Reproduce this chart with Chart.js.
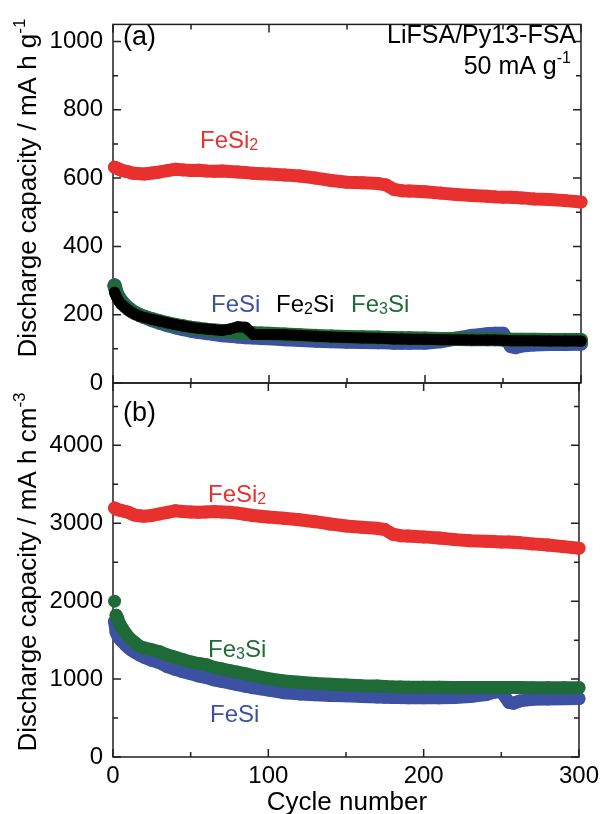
<!DOCTYPE html>
<html>
<head>
<meta charset="utf-8">
<title>Discharge capacity vs cycle number</title>
<script src="https://cdn.jsdelivr.net/npm/chart.js@4.4.1/dist/chart.umd.min.js"></script>
<style>
  body { margin: 0; background: #fff; }
  #wrap { position: relative; width: 604px; height: 814px; }
  #wrap canvas { position: absolute; left: 0; top: 0; }
</style>
</head>
<body>
<div id="wrap">
  <canvas id="chartA" width="604" height="814"></canvas>
  <canvas id="chartB" width="604" height="814"></canvas>
</div>
<script>
// cycle numbers the values were read at
const cycles = [1, 2, 3, 4, 5, 6,  8, 10, 12, 14, 17, 20,  25, 30, 35, 40, 45, 50,
  55, 60, 65, 70, 75, 80,  85, 90, 95, 100,  110, 120, 130, 140, 150, 160, 170,
  175, 180, 185, 190,  200, 210, 220, 230, 240,  245, 250, 255, 258, 262,  270, 280, 290, 300];

// (a) gravimetric capacity, mA h g-1
const fesi2Grav = [632, 630, 628, 626, 624, 622,  620, 618, 615, 614, 613, 612,  615, 618, 622, 626, 624, 622,
  623, 621, 620, 621, 619, 618,  616, 614, 613, 612,  609, 606, 600, 593, 588, 586, 584,
  580, 567, 563, 562,  560, 556, 552, 549, 547,  545, 544, 544, 543, 542,  539, 537, 534, 530];
const fesiGrav = [286, 270, 258, 250, 243, 237,  227, 219, 212, 206, 199, 193,  184, 176, 169, 163, 158, 153,
  149, 146, 143, 140, 138, 136,  134, 133, 132, 131,  128, 126, 124, 122, 121, 120, 119,
  119, 118, 118, 118,  118, 122, 130, 138, 143,  144, 144, 108, 105, 110,  113, 114, 114, 115];
const fe2siGrav = [266, 255, 245, 238, 232, 228,  220, 213, 207, 202, 196, 192,  186, 181, 176, 171, 167, 163,
  160, 158, 156, 154, 158, 165,  163, 142, 142, 142,  141, 139, 137, 135, 133, 132, 131,
  130, 129, 129, 128,  128, 127, 127, 126, 126,  126, 125, 124, 124, 124,  124, 123, 123, 123];
const fe3siGrav = [284, 266, 254, 246, 239, 233,  224, 216, 210, 205, 199, 194,  187, 181, 175, 170, 166, 162,
  159, 156, 154, 152, 150, 148,  147, 146, 145, 144,  142, 140, 138, 136, 135, 134, 133,
  132, 132, 131, 131,  130, 129, 129, 128, 128,  128, 127, 127, 127, 127,  127, 126, 126, 126];

// (b) volumetric capacity, mA h cm-3
const fesi2Vol = [3195, 3185, 3175, 3170, 3165, 3160,  3150, 3140, 3120, 3105, 3095, 3090,  3100, 3120, 3140, 3160, 3150, 3145,
  3140, 3145, 3150, 3145, 3140, 3130,  3115, 3100, 3090, 3080,  3065, 3045, 3020, 2990, 2965, 2950, 2935,
  2920, 2860, 2840, 2835,  2825, 2810, 2790, 2775, 2770,  2765, 2760, 2760, 2755, 2750,  2735, 2720, 2700, 2680];
const fesiVol = [1740, 1600, 1560, 1530, 1500, 1480,  1440, 1400, 1370, 1345, 1310, 1280,  1240, 1210, 1160, 1125, 1095, 1070,
  1040, 1020, 990, 970, 950, 930,  910, 890, 875, 860,  825, 810, 800, 790, 785, 775, 770,
  768, 765, 762, 760,  760, 760, 765, 775, 800,  830, 840, 700, 690, 720,  740, 745, 748, 750];
const fe3siVol = [2000, 1820, 1780, 1720, 1680, 1650,  1590, 1540, 1500, 1470, 1420, 1400,  1375, 1350, 1310, 1280, 1250, 1220,
  1200, 1185, 1150, 1130, 1110, 1090,  1070, 1045, 1025, 1005,  975, 960, 945, 935, 925, 915, 910,
  905, 900, 898, 896,  895, 894, 893, 892, 892,  892, 891, 891, 891, 891,  890, 890, 890, 890];

// ticks
const xTicks = [0, 100, 200, 300];
const xMinor = [50, 150, 250];
const yTicksGrav = [0, 200, 400, 600, 800, 1000];
const yMinorGrav = [100, 300, 500, 700, 900];
const yTicksVol = [0, 1000, 2000, 3000, 4000];
const yMinorVol = [500, 1500, 2500, 3500, 4500];

const FONT = "'Liberation Sans', Arial, Helvetica, sans-serif";
const RED = '#e8312f', BLUE = '#3d51a3', GREEN = '#1f6b38', BLACK = '#000000';

function series(label, values, color, width, detachFirst) {
  return {
    label: label,
    data: cycles.map((c, i) => ({ x: c, y: values[i] })),
    borderColor: color,
    backgroundColor: color,
    showLine: true,
    borderWidth: width,
    pointRadius: width / 2,
    pointBorderWidth: 0,
    tension: 0,
    borderCapStyle: 'round',
    borderJoinStyle: 'round',
    clip: false,
    // the very first point sits on its own in the original
    segment: detachFirst ? { borderColor: c => (c.p0DataIndex === 0 ? 'rgba(0,0,0,0)' : undefined) } : undefined
  };
}

// draw text made of pieces with different sizes (sub/superscripts)
function drawRich(ctx, parts, x, y, align, color) {
  ctx.fillStyle = color;
  ctx.textAlign = 'left';
  ctx.textBaseline = 'alphabetic';
  let w = 0;
  parts.forEach(p => { ctx.font = p.s + 'px ' + FONT; w += ctx.measureText(p.t).width; });
  let cx = align === 'right' ? x - w : (align === 'center' ? x - w / 2 : x);
  parts.forEach(p => {
    ctx.font = p.s + 'px ' + FONT;
    ctx.fillText(p.t, cx, y + (p.dy || 0));
    cx += ctx.measureText(p.t).width;
  });
}

function rotatedTitle(ctx, parts, x, cy) {
  ctx.save();
  ctx.translate(x, cy);
  ctx.rotate(-Math.PI / 2);
  drawRich(ctx, parts, 0, 0, 'center', '#000');
  ctx.restore();
}

// box with inward ticks on all four sides
function framePlugin(yMajor, yMinor) {
  return {
    id: 'frame',
    beforeDatasetsDraw(chart) {
      const ctx = chart.ctx, a = chart.chartArea;
      const x = chart.scales.x, y = chart.scales.y;
      ctx.save();
      ctx.strokeStyle = '#231f20';
      ctx.lineWidth = 1.5;
      ctx.strokeRect(a.left, a.top, a.right - a.left, a.bottom - a.top);
      ctx.beginPath();
      const xt = (v, len) => {
        const px = x.getPixelForValue(v);
        ctx.moveTo(px, a.bottom); ctx.lineTo(px, a.bottom - len);
        ctx.moveTo(px, a.top); ctx.lineTo(px, a.top + len);
      };
      const yt = (v, len) => {
        const py = y.getPixelForValue(v);
        ctx.moveTo(a.left, py); ctx.lineTo(a.left + len, py);
        ctx.moveTo(a.right, py); ctx.lineTo(a.right - len, py);
      };
      xTicks.forEach(v => xt(v, 8));
      xMinor.forEach(v => xt(v, 5));
      yMajor.forEach(v => yt(v, 8));
      yMinor.forEach(v => yt(v, 5));
      ctx.stroke();
      ctx.restore();
    }
  };
}

function textPlugin(drawFn) {
  return { id: 'texts', afterDraw(chart) { chart.ctx.save(); drawFn(chart.ctx); chart.ctx.restore(); } };
}

function yAxis(max, ticks) {
  return {
    type: 'linear', min: 0, max: max,
    afterBuildTicks: s => { s.ticks = ticks.map(v => ({ value: v })); },
    afterFit: s => { s.width = 113; },
    grid: { display: false, drawTicks: false },
    border: { display: false },
    ticks: { color: '#000', font: { size: 24, family: FONT }, padding: 10, callback: v => String(v) }
  };
}

Chart.defaults.font.family = FONT;

// panel (a)
new Chart(document.getElementById('chartA'), {
  type: 'scatter',
  data: {
    datasets: [
      series('Fe2Si', fe2siGrav, BLACK, 11),
      series('Fe3Si', fe3siGrav, GREEN, 14),
      series('FeSi', fesiGrav, BLUE, 14),
      series('FeSi2', fesi2Grav, RED, 13)
    ]
  },
  options: {
    responsive: false, animation: false, events: [],
    layout: { padding: { left: 0, right: 23, top: 9, bottom: 431 } },
    plugins: { legend: { display: false }, tooltip: { enabled: false } },
    scales: {
      x: { type: 'linear', min: 0, max: 300, display: false },
      y: yAxis(1050, yTicksGrav)
    }
  },
  plugins: [framePlugin(yTicksGrav, yMinorGrav), textPlugin(ctx => {
    rotatedTitle(ctx, [{ t: 'Discharge capacity / mA h g', s: 26 }, { t: '-1', s: 17, dy: -11 }], 36, 188);
    drawRich(ctx, [{ t: '(a)', s: 27 }], 123, 45, 'left', '#000');
    drawRich(ctx, [{ t: 'LiFSA/Py13-FSA', s: 25 }], 576, 43, 'right', '#000');
    drawRich(ctx, [{ t: '50 mA g', s: 25 }, { t: '-1', s: 16, dy: -11 }], 571, 74, 'right', '#000');
    drawRich(ctx, [{ t: 'FeSi', s: 24 }, { t: '2', s: 16, dy: 2 }], 200, 148, 'left', RED);
    drawRich(ctx, [{ t: 'FeSi', s: 24 }], 211, 312, 'left', BLUE);
    drawRich(ctx, [{ t: 'Fe', s: 24 }, { t: '2', s: 16, dy: 2 }, { t: 'Si', s: 24 }], 276, 312, 'left', BLACK);
    drawRich(ctx, [{ t: 'Fe', s: 24 }, { t: '3', s: 16, dy: 2 }, { t: 'Si', s: 24 }], 351, 312, 'left', GREEN);
  })]
});

// panel (b)
new Chart(document.getElementById('chartB'), {
  type: 'scatter',
  data: {
    datasets: [
      series('Fe3Si', fe3siVol, GREEN, 13, true),
      series('FeSi', fesiVol, BLUE, 13),
      series('FeSi2', fesi2Vol, RED, 13)
    ]
  },
  options: {
    responsive: false, animation: false, events: [],
    layout: { padding: { left: 0, right: 23, top: 383, bottom: 0 } },
    plugins: { legend: { display: false }, tooltip: { enabled: false } },
    scales: {
      x: {
        type: 'linear', min: 0, max: 300,
        afterBuildTicks: s => { s.ticks = xTicks.map(v => ({ value: v })); },
        afterFit: s => { s.height = 57; },
        grid: { display: false, drawTicks: false },
        border: { display: false },
        ticks: { color: '#000', font: { size: 24, family: FONT }, padding: 5, maxRotation: 0, callback: v => String(v) }
      },
      y: yAxis(4800, yTicksVol)
    }
  },
  plugins: [framePlugin(yTicksVol, yMinorVol), textPlugin(ctx => {
    rotatedTitle(ctx, [{ t: 'Discharge capacity / mA h cm', s: 26 }, { t: '-3', s: 17, dy: -11 }], 36, 572);
    drawRich(ctx, [{ t: 'Cycle number', s: 26 }], 347, 810, 'center', '#000');
    drawRich(ctx, [{ t: '(b)', s: 27 }], 123, 421, 'left', '#000');
    drawRich(ctx, [{ t: 'FeSi', s: 24 }, { t: '2', s: 16, dy: 2 }], 208, 502, 'left', RED);
    drawRich(ctx, [{ t: 'Fe', s: 24 }, { t: '3', s: 16, dy: 2 }, { t: 'Si', s: 24 }], 208, 657, 'left', GREEN);
    drawRich(ctx, [{ t: 'FeSi', s: 24 }], 210, 722, 'left', BLUE);
  })]
});
</script>
</body>
</html>
